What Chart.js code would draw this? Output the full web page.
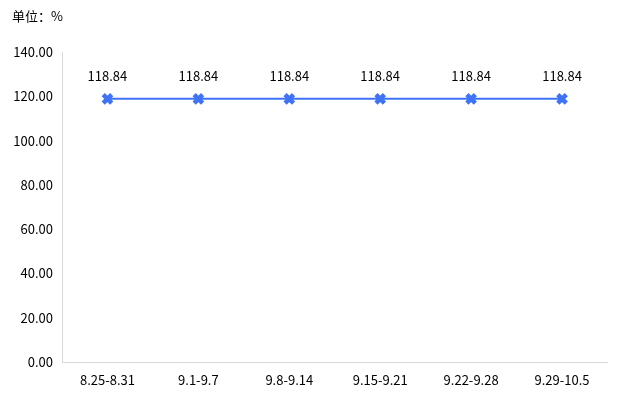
<!DOCTYPE html>
<html>
<head>
<meta charset="utf-8">
<script src="https://cdn.jsdelivr.net/npm/chart.js@4"></script>
<style>
	html, body { margin: 0; padding: 0; background: #fff; }
	#wrap { width: 618px; height: 397px; position: relative; }
</style>
</head>
<body>
<div id="wrap"><canvas id="chartCanvas" width="618" height="397"></canvas></div>
<script>
const categories = ["8.25-8.31", "9.1-9.7", "9.8-9.14", "9.15-9.21", "9.22-9.28", "9.29-10.5"];
const values = [118.84, 118.84, 118.84, 118.84, 118.84, 118.84];
const yTicks = [0, 20, 40, 60, 80, 100, 120, 140];
const unitLabel = "单位：%";

const fontFamily = "'Noto Sans CJK SC', 'Noto Sans', sans-serif";
const lineColor = "#3F73F5";

// value labels above each point + unit caption
const labelPlugin = {
	id: "labels",
	afterDatasetsDraw(chart) {
		const ctx = chart.ctx;
		const meta = chart.getDatasetMeta(0);
		ctx.save();
		ctx.font = "13px " + fontFamily;
		ctx.fillStyle = "#000";
		ctx.textAlign = "center";
		ctx.textBaseline = "middle";
		meta.data.forEach((pt, i) => {
			ctx.fillText(values[i].toFixed(2), pt.x, pt.y - 23);
		});
		ctx.textAlign = "left";
		ctx.fillText(unitLabel, 12, 16);
		ctx.restore();
	}
};

new Chart(document.getElementById("chartCanvas"), {
	type: "line",
	data: {
		labels: categories,
		datasets: [{
			data: values,
			borderColor: lineColor,
			backgroundColor: lineColor,
			borderWidth: 2,
			pointStyle: "crossRot",
			pointRadius: 6,
			pointBorderWidth: 4.5,
			pointBorderColor: lineColor,
			tension: 0
		}]
	},
	options: {
		responsive: false,
		animation: false,
		layout: { padding: { top: 52, right: 10, left: 0, bottom: 0 } },
		plugins: {
			legend: { display: false },
			tooltip: { enabled: false }
		},
		scales: {
			x: {
				offset: true,
				grid: { display: false, drawTicks: false },
				border: { color: "#d9d9d9", width: 1 },
				ticks: {
					color: "#000",
					font: { family: fontFamily, size: 13 },
					padding: 10,
					maxRotation: 0
				},
				afterFit(scale) { scale.height = 35; }
			},
			y: {
				min: 0,
				max: 140,
				afterBuildTicks(scale) { scale.ticks = yTicks.map(v => ({ value: v })); },
				grid: { display: false, drawTicks: false },
				border: { color: "#d9d9d9", width: 1 },
				ticks: {
					color: "#000",
					font: { family: fontFamily, size: 13 },
					padding: 9,
					callback: v => Number(v).toFixed(2)
				},
				afterFit(scale) { scale.width = 62; }
			}
		}
	},
	plugins: [labelPlugin]
});
</script>
</body>
</html>
